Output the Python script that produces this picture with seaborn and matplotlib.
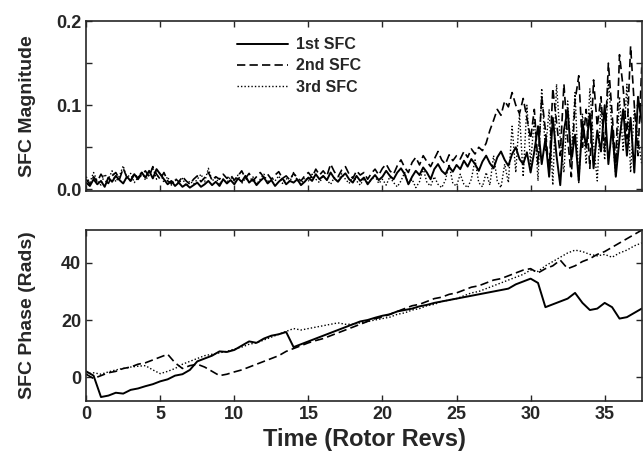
import numpy as np
import pandas as pd
import matplotlib
matplotlib.use("Agg")
import matplotlib.pyplot as plt
import seaborn as sns

# ---- data ----
series_names = ["1st SFC", "2nd SFC", "3rd SFC"]

# magnitude, sampled every 0.25 rotor revs (0 .. 37.5)
t_mag = np.linspace(0, 37.5, 151)
mag_1st = [
    0.008, 0.004, 0.012, 0.006, 0.010, 0.003, 0.014, 0.009, 0.016, 0.011, 0.007, 0.015, 0.010, 0.018, 0.012, 0.020, 0.014, 0.022, 0.013, 0.024,
    0.018, 0.012, 0.006, 0.010, 0.004, 0.008, 0.003, 0.006, 0.002, 0.005, 0.008, 0.003, 0.006, 0.010, 0.005, 0.009, 0.004, 0.012, 0.007, 0.011,
    0.006, 0.013, 0.009, 0.016, 0.008, 0.012, 0.005, 0.010, 0.014, 0.007, 0.011, 0.004, 0.009, 0.013, 0.006, 0.010, 0.008, 0.012, 0.005, 0.009,
    0.014, 0.010, 0.018, 0.012, 0.016, 0.011, 0.020, 0.013, 0.009, 0.015, 0.019, 0.012, 0.008, 0.016, 0.010, 0.014, 0.006, 0.012, 0.017, 0.011,
    0.015, 0.022, 0.016, 0.012, 0.020, 0.025, 0.018, 0.006, 0.015, 0.022, 0.017, 0.026, 0.020, 0.012, 0.024, 0.030, 0.022, 0.018, 0.027, 0.021,
    0.029, 0.024, 0.034, 0.027, 0.036, 0.030, 0.022, 0.033, 0.040, 0.031, 0.025, 0.038, 0.045, 0.035, 0.028, 0.042, 0.050, 0.036, 0.030, 0.044,
    0.020, 0.045, 0.075, 0.030, 0.060, 0.015, 0.085, 0.040, 0.005, 0.070, 0.095, 0.035, 0.065, 0.010, 0.080, 0.050, 0.090, 0.025, 0.070, 0.045,
    0.100, 0.030, 0.075, 0.015, 0.060, 0.095, 0.040, 0.085, 0.020, 0.110, 0.080,
]
mag_2nd = [
    0.012, 0.006, 0.015, 0.009, 0.018, 0.011, 0.007, 0.016, 0.020, 0.012, 0.025, 0.014, 0.010, 0.019, 0.013, 0.017, 0.022, 0.015, 0.027, 0.018,
    0.012, 0.020, 0.010, 0.007, 0.013, 0.009, 0.015, 0.010, 0.006, 0.012, 0.016, 0.009, 0.014, 0.020, 0.011, 0.015, 0.012, 0.018, 0.013, 0.017,
    0.011, 0.016, 0.022, 0.013, 0.019, 0.010, 0.015, 0.020, 0.014, 0.018, 0.012, 0.017, 0.021, 0.013, 0.016, 0.011, 0.019, 0.014, 0.010, 0.016,
    0.020, 0.014, 0.024, 0.017, 0.022, 0.016, 0.030, 0.021, 0.015, 0.023, 0.027, 0.018, 0.013, 0.022, 0.017, 0.020, 0.012, 0.019, 0.024, 0.017,
    0.025, 0.030, 0.022, 0.018, 0.028, 0.035, 0.026, 0.020, 0.032, 0.038, 0.029, 0.040, 0.033, 0.027, 0.036, 0.045, 0.035, 0.030, 0.041, 0.034,
    0.040, 0.036, 0.045, 0.038, 0.048, 0.042, 0.050, 0.046, 0.055, 0.070, 0.082, 0.095, 0.088, 0.105, 0.098, 0.115, 0.100, 0.090, 0.108, 0.085,
    0.060, 0.095, 0.030, 0.110, 0.070, 0.020, 0.120, 0.080, 0.040, 0.125, 0.060, 0.015, 0.105, 0.135, 0.050, 0.095, 0.025, 0.130, 0.075, 0.110,
    0.045, 0.150, 0.090, 0.030, 0.160, 0.120, 0.060, 0.170, 0.100, 0.040, 0.145,
]
mag_3rd = [
    0.015, 0.008, 0.020, 0.010, 0.005, 0.018, 0.012, 0.022, 0.009, 0.016, 0.028, 0.013, 0.019, 0.008, 0.014, 0.021, 0.011, 0.017, 0.026, 0.012,
    0.020, 0.008, 0.015, 0.005, 0.011, 0.007, 0.013, 0.004, 0.010, 0.006, 0.012, 0.018, 0.009, 0.025, 0.010, 0.014, 0.006, 0.012, 0.008, 0.015,
    0.010, 0.017, 0.007, 0.013, 0.009, 0.015, 0.006, 0.012, 0.018, 0.008, 0.014, 0.010, 0.016, 0.007, 0.013, 0.009, 0.020, 0.011, 0.006, 0.014,
    0.010, 0.018, 0.012, 0.008, 0.016, 0.011, 0.006, 0.014, 0.009, 0.019, 0.012, 0.007, 0.015, 0.010, 0.005, 0.013, 0.008, 0.011, 0.016, 0.007,
    0.012, 0.005, 0.015, 0.008, 0.003, 0.010, 0.020, 0.006, 0.012, 0.002, 0.009, 0.025, 0.008, 0.004, 0.015, 0.006, 0.002, 0.011, 0.030, 0.007,
    0.004, 0.018, 0.006, 0.002, 0.012, 0.035, 0.008, 0.003, 0.020, 0.005, 0.040, 0.010, 0.002, 0.030, 0.008, 0.075, 0.020, 0.090, 0.015, 0.100,
    0.030, 0.085, 0.010, 0.120, 0.045, 0.095, 0.005, 0.125, 0.060, 0.020, 0.105, 0.040, 0.115, 0.008, 0.090, 0.030, 0.120, 0.055, 0.010, 0.100,
    0.035, 0.130, 0.070, 0.015, 0.110, 0.045, 0.125, 0.020, 0.095, 0.060, 0.030,
]

# phase, sampled every 0.5 rotor revs (0 .. 37.5)
t_phase = np.linspace(0, 37.5, 76)
phase_1st = [
    2.0, 0.5, -7.0, -6.5, -5.5, -5.8, -4.5, -4.0, -3.2, -2.5, -1.5, -0.8, 0.5, 1.0, 2.5, 5.5, 6.5, 7.5, 9.0, 8.8,
    9.5, 11.0, 12.5, 12.0, 13.5, 14.5, 15.0, 15.8, 10.5, 11.5, 12.5, 13.5, 14.5, 15.5, 16.5, 17.5, 18.5, 19.5, 20.0, 20.8,
    21.5, 22.0, 23.0, 23.5, 24.0, 24.8, 25.3, 26.0, 26.5, 27.0, 27.5, 28.0, 28.5, 29.0, 29.5, 30.0, 30.5, 31.0, 32.5, 33.5,
    34.5, 33.0, 24.5, 25.5, 26.5, 27.5, 29.5, 26.0, 23.5, 24.0, 26.0, 24.5, 20.5, 21.0, 22.5, 24.0,
]
phase_2nd = [
    1.0, -0.5, 0.5, 1.5, 2.0, 3.0, 3.5, 4.5, 5.0, 6.0, 7.0, 8.0, 5.0, 3.0, 4.0, 4.5, 3.5, 2.0, 0.5, 1.0,
    1.8, 2.5, 3.5, 4.5, 5.5, 6.5, 7.5, 9.0, 10.0, 11.0, 12.0, 12.8, 13.5, 14.5, 15.5, 16.5, 17.5, 18.5, 19.5, 20.5,
    21.0, 22.0, 23.0, 24.0, 25.0, 25.5, 26.5, 27.5, 28.0, 29.0, 29.5, 30.5, 31.5, 32.0, 33.0, 34.0, 34.5, 35.5, 36.5, 37.5,
    38.0, 36.5, 38.0, 39.0, 41.0, 38.0, 39.0, 40.5, 41.5, 43.0, 44.0, 45.5, 47.0, 48.5, 50.0, 51.5,
]
phase_3rd = [
    1.0, 1.5, 1.0, 1.8, 2.5, 3.0, 3.5, 3.8, 4.0, 2.5, 1.2, 2.0, 3.0, 4.5, 5.5, 6.5, 7.5, 8.0, 8.5, 9.0,
    9.8, 10.5, 11.5, 12.0, 13.0, 14.0, 15.0, 16.0, 17.0, 16.5, 17.0, 17.5, 18.0, 18.5, 19.0, 18.5, 18.5, 19.0, 19.5, 20.0,
    20.5, 21.0, 22.0, 22.5, 23.5, 24.0, 25.0, 25.5, 26.5, 27.0, 27.5, 28.5, 29.5, 30.0, 31.0, 32.0, 33.0, 34.0, 35.0, 36.0,
    37.5, 37.0, 39.0, 40.5, 42.0, 43.5, 44.5, 44.0, 43.0, 42.5, 43.0, 42.0, 43.5, 44.5, 46.0, 47.0,
]

mag_df = pd.DataFrame({
    "t": np.concatenate([t_mag] * 3),
    "value": mag_1st + mag_2nd + mag_3rd,
    "SFC": np.repeat(series_names, len(t_mag)),
})
phase_df = pd.DataFrame({
    "t": np.concatenate([t_phase] * 3),
    "value": phase_1st + phase_2nd + phase_3rd,
    "SFC": np.repeat(series_names, len(t_phase)),
})

sns.set_style("ticks", {"xtick.direction": "in", "ytick.direction": "in"})
plt.rcParams['font.family'] = ['Liberation Sans', 'DejaVu Sans']
plt.rcParams['font.weight'] = 'bold'

dash_styles = ["", (5, 2.5), (1, 1.5)]
line_widths = {"1st SFC": 1.4, "2nd SFC": 1.2, "3rd SFC": 1.0}

fig = plt.figure(figsize=(6.43, 4.57), dpi=100)
ax1 = fig.add_axes([0.134, 0.582, 0.864, 0.372])
ax2 = fig.add_axes([0.134, 0.1225, 0.864, 0.3745])

sns.lineplot(data=mag_df, x="t", y="value", hue="SFC", style="SFC",
             palette=["black"] * 3, dashes=dash_styles, estimator=None,
             sort=False, ax=ax1)
sns.lineplot(data=phase_df, x="t", y="value", hue="SFC", style="SFC",
             palette=["black"] * 3, dashes=dash_styles, estimator=None,
             sort=False, ax=ax2, legend=False)

for ax in (ax1, ax2):
    for line, name in zip(ax.lines, series_names):
        line.set_linewidth(line_widths[name])
    ax.set_xlim(0, 37.5)
    ax.set_xticks([0, 5, 10, 15, 20, 25, 30, 35])
    ax.tick_params(top=True, right=True, length=4, width=1, labelsize=13)
    for sp in ax.spines.values():
        sp.set_linewidth(1.2)

ax1.set_ylim(-0.002, 0.2)
ax1.set_yticks([0.0, 0.1, 0.2])
ax1.set_yticklabels(["0.0", "0.1", "0.2"])
ax1.set_yticks([0.05, 0.15], minor=True)
ax1.tick_params(which="minor", direction="in", left=True, right=True, length=4, width=1)
ax1.set_xticklabels([])
ax1.set_xlabel("")
ax1.set_ylabel("SFC Magnitude", fontsize=14, fontweight="bold")
ax1.yaxis.set_label_coords(-0.09, 0.5)

# legend sits inside the top panel, no frame
leg = ax1.legend(loc="upper left", bbox_to_anchor=(0.245, 0.99), frameon=False,
                 fontsize=11.5, handlelength=3.2, labelspacing=0.4, handletextpad=0.5)
for h, name in zip(leg.get_lines(), series_names):
    h.set_linewidth(line_widths[name])

ax2.set_ylim(-8.4, 51.6)
ax2.set_yticks([0, 20, 40])
ax2.set_ylabel("SFC Phase (Rads)", fontsize=14, fontweight="bold")
ax2.yaxis.set_label_coords(-0.09, 0.5)
ax2.set_xlabel("Time (Rotor Revs)", fontsize=17, fontweight="bold")

fig.savefig("out.png", dpi=100)
